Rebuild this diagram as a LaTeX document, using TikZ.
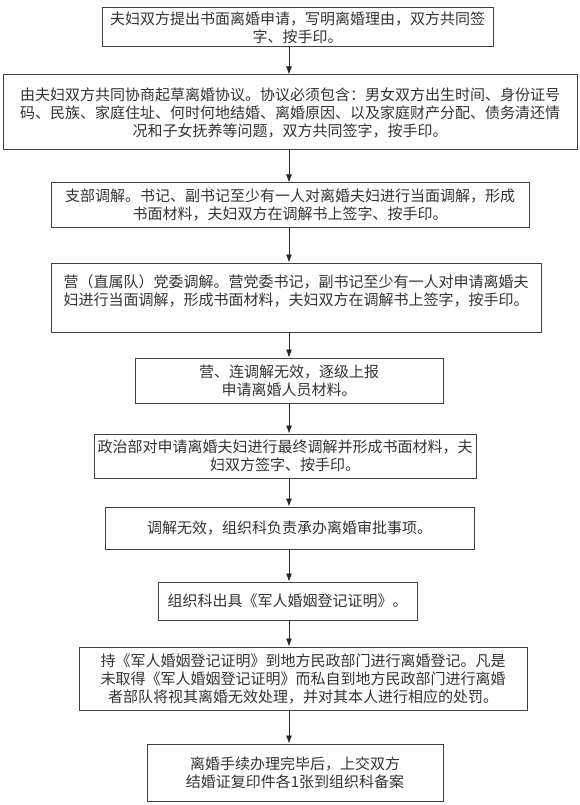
\documentclass[tikz,border=0pt]{standalone}
\usepackage{fontspec}
\newfontfamily\cjk{Noto Sans CJK SC}
\usepackage{tikz}
\usetikzlibrary{arrows.meta}

\tikzset{
  words/.style={align=center,font=\cjk\fontsize{15}{18}\selectfont,text=black!80},
  stage/.style={words,draw=black!75,line width=1pt,inner sep=2pt},
  flow/.style={->,line width=0.8pt,draw=black!85},
}

\begin{document}
\begin{tikzpicture}[x=1pt,y=-1pt,>={Latex[length=8pt,width=6pt]}]
\useasboundingbox (0,0) rectangle (580,805);
\coordinate (spine) at (289,0);
% the steps, top to bottom
\node[stage,minimum width=391pt,minimum height=39pt] (apply) at (297.5,27.5)
  {夫妇双方提出书面离婚申请，写明离婚理由，双方共同签\\字、按手印。};
\node[stage,minimum width=574pt,minimum height=75pt] (draft) at (290,112.5)
  {由夫妇双方共同协商起草离婚协议。协议必须包含：男女双方出生时间、身份证号\\
   码、民族、家庭住址、何时何地结婚、离婚原因、以及家庭财产分配、债务清还情\\
   况和子女抚养等问题，双方共同签字，按手印。};
\node[stage,minimum width=478pt,minimum height=44pt] (branch) at (290,205)
  {支部调解。书记、副书记至少有一人对离婚夫妇进行当面调解，形成\\书面材料，夫妇双方在调解书上签字、按手印。};
\node[stage,minimum width=490pt,minimum height=69pt,
  label={[words,yshift=7pt]center:营（直属队）党委调解。营党委书记，副书记至少有一人对申请离婚夫\\妇进行当面调解，形成书面材料，夫妇双方在调解书上签字，按手印。}]
  (battalion) at (296,297.5) {};
\node[stage,minimum width=308pt,minimum height=45pt] (report) at (289,380.5)
  {营、连调解无效，逐级上报\\申请离婚人员材料。};
\node[stage,minimum width=382pt,minimum height=44pt] (politics) at (285,456)
  {政治部对申请离婚夫妇进行最终调解并形成书面材料，夫\\妇双方签字、按手印。};
\node[stage,minimum width=369pt,minimum height=42pt] (approve) at (289.5,528)
  {调解无效，组织科负责承办离婚审批事项。};
\node[stage,minimum width=259pt,minimum height=38pt] (certify) at (287.5,601)
  {组织科出具《军人婚姻登记证明》。};
\node[stage,minimum width=448pt,minimum height=63pt] (register) at (303,678.5)
  {持《军人婚姻登记证明》到地方民政部门进行离婚登记。凡是\\
   未取得《军人婚姻登记证明》而私自到地方民政部门进行离婚\\
   者部队将视其离婚无效处理，并对其本人进行相应的处罚。};
\node[stage,minimum width=296pt,minimum height=57pt] (archive) at (295,772.5)
  {离婚手续办理完毕后，上交双方\\结婚证复印件各1张到组织科备案};
% connectors on one vertical line
\foreach \a/\b in {apply/draft,draft/branch,branch/battalion,battalion/report,
  report/politics,politics/approve,approve/certify,certify/register,register/archive}
  \draw[flow] (\a.south -| spine) -- (\b.north -| spine);
\end{tikzpicture}
\end{document}
